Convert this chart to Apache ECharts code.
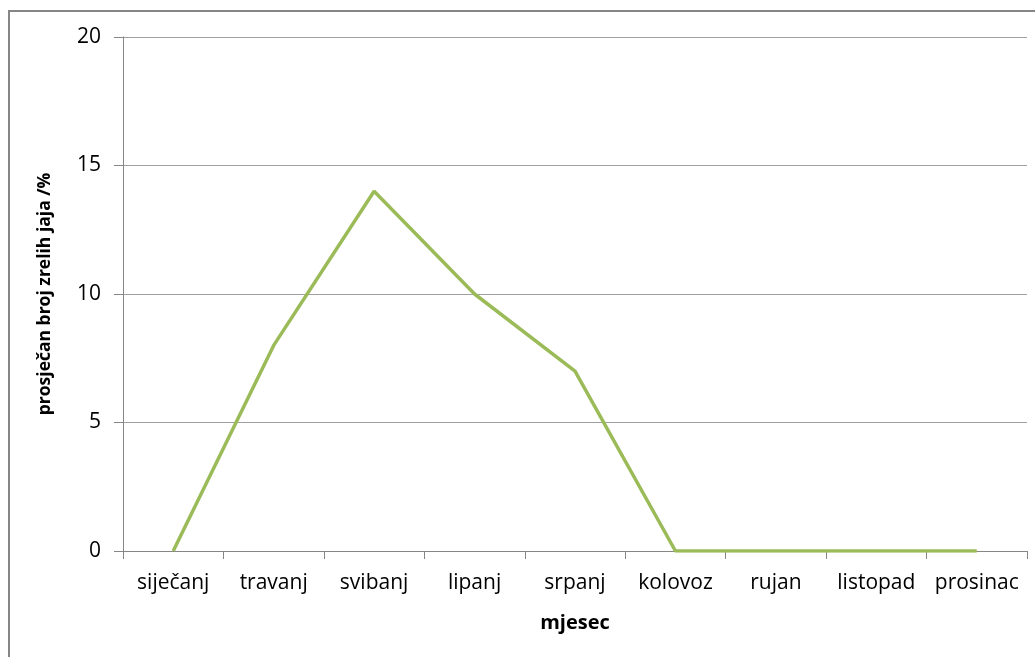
<!DOCTYPE html>
<html>
<head>
<meta charset="utf-8">
<script src="https://cdn.jsdelivr.net/npm/echarts@6/dist/echarts.min.js"></script>
<style>html,body{margin:0;padding:0;background:#fff;}#c{width:1035px;height:657px;}</style>
</head>
<body>
<div id="c"></div>
<script>
const categories = ['siječanj','travanj','svibanj','lipanj','srpanj','kolovoz','rujan','listopad','prosinac'];
const values = [0, 8, 14, 10, 7, 0, 0, 0, 0];
const yTicks = { min: 0, max: 20, interval: 5 };
const xName = 'mjesec';
const yName = 'prosječan broj zrelih jaja /%';

const chart = echarts.init(document.getElementById('c'));
const font = "'Open Sans', 'Noto Sans', sans-serif";
chart.setOption({
  animation: false,
  graphic: [{
    type: 'rect',
    shape: { x: 9, y: 11, width: 1100, height: 700 },
    style: { fill: 'none', stroke: '#868686', lineWidth: 2 },
    silent: true
  }],
  grid: { left: 123, right: 8, top: 37, bottom: 106 },
  xAxis: {
    type: 'category',
    data: categories,
    boundaryGap: true,
    name: xName,
    nameLocation: 'middle',
    nameGap: 62,
    nameTextStyle: { fontFamily: font, fontSize: 20, fontWeight: 'bold', color: '#000' },
    axisLine: { lineStyle: { color: '#868686', width: 1 } },
    axisTick: { show: true, length: 8, lineStyle: { color: '#868686' } },
    axisLabel: { fontFamily: font, fontSize: 21, color: '#000', margin: 22, interval: 0 }
  },
  yAxis: {
    type: 'value',
    min: yTicks.min, max: yTicks.max, interval: yTicks.interval,
    name: yName,
    nameLocation: 'middle',
    nameGap: 69,
    nameTextStyle: { fontFamily: font, fontSize: 17.5, fontWeight: 'bold', color: '#000' },
    axisLine: { show: true, lineStyle: { color: '#868686', width: 1 } },
    axisTick: { show: true, length: 9, lineStyle: { color: '#868686' } },
    splitLine: { lineStyle: { color: '#a0a0a0', width: 1 } },
    axisLabel: { fontFamily: font, fontSize: 21, color: '#000', margin: 22 }
  },
  series: [{
    type: 'line',
    data: values,
    symbol: 'none',
    lineStyle: { color: '#9BBB59', width: 3.5 },
    itemStyle: { color: '#9BBB59' }
  }]
});
</script>
</body>
</html>
